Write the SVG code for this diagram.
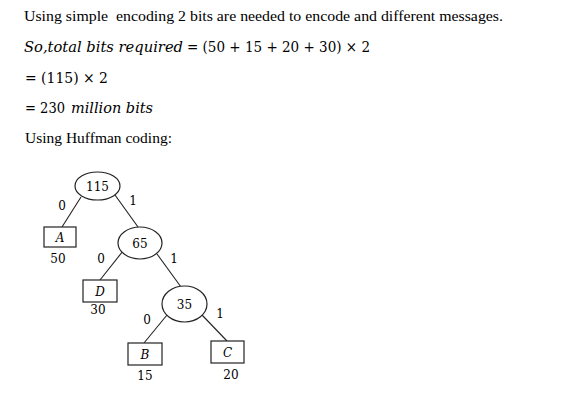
<svg xmlns="http://www.w3.org/2000/svg" width="583" height="408" viewBox="0 0 583 408">
<style>
.t{font-family:"Liberation Serif","Times New Roman",serif;font-size:15px;fill:#000}
.m{font-family:"DejaVu Serif","Liberation Serif",serif;font-size:15px;fill:#000}
.mi{font-style:italic}
.n{font-family:"DejaVu Serif","Liberation Serif",serif;font-size:12px;fill:#000;text-anchor:middle}
.l{font-family:"DejaVu Serif","Liberation Serif",serif;font-style:italic;font-size:12px;fill:#000;text-anchor:middle}
.s{fill:#fff;stroke:#222;stroke-width:1.2}
.e{stroke:#222;stroke-width:1.1;fill:none}
</style>
<rect width="583" height="408" fill="#fff"/>
<text class="t" x="24" y="21" textLength="479" lengthAdjust="spacingAndGlyphs" xml:space="preserve">Using simple  encoding 2 bits are needed to encode and different messages.</text>
<text class="m" x="24" y="52"><tspan class="mi" textLength="159" lengthAdjust="spacingAndGlyphs">So,total bits required</tspan><tspan x="187" textLength="183" lengthAdjust="spacingAndGlyphs">= (50 + 15 + 20 + 30) × 2</tspan></text>
<text class="m" x="25" y="83" textLength="83" lengthAdjust="spacingAndGlyphs">= (115) × 2</text>
<text class="m" x="25" y="113"><tspan textLength="40" lengthAdjust="spacingAndGlyphs">= 230</tspan><tspan class="mi" x="71" textLength="82" lengthAdjust="spacingAndGlyphs">million bits</tspan></text>
<text class="t" x="25" y="143" textLength="147" lengthAdjust="spacingAndGlyphs">Using Huffman coding:</text>
<g id="connectors">
<line class="e" x1="81" y1="197" x2="62" y2="227"/>
<line class="e" x1="115" y1="195" x2="138" y2="227"/>
<line class="e" x1="123" y1="251" x2="100" y2="280"/>
<line class="e" x1="157" y1="254" x2="181" y2="287"/>
<line class="e" x1="167" y1="315" x2="144" y2="343"/>
<line class="e" x1="202" y1="315" x2="227" y2="341"/>
<text class="n" x="62" y="210">0</text>
<text class="n" x="133" y="205">1</text>
<text class="n" x="101" y="263">0</text>
<text class="n" x="174" y="263">1</text>
<text class="n" x="147" y="324">0</text>
<text class="n" x="220" y="318">1</text>
</g>
<g id="n115"><ellipse class="s" cx="97.5" cy="186" rx="22.5" ry="14"/><text class="n" x="97.5" y="190.5">115</text></g>
<g id="n65"><ellipse class="s" cx="140" cy="243" rx="22" ry="16"/><text class="n" x="140" y="247.5">65</text></g>
<g id="n35"><ellipse class="s" cx="184.5" cy="304" rx="22.5" ry="18"/><text class="n" x="184.5" y="308.5">35</text></g>
<g id="nA"><rect class="s" x="44" y="227" width="32" height="20"/><text class="l" x="60" y="242">A</text><text class="n" x="58" y="263">50</text></g>
<g id="nD"><rect class="s" x="83" y="280" width="34" height="22"/><text class="l" x="100" y="296">D</text><text class="n" x="98" y="314">30</text></g>
<g id="nB"><rect class="s" x="128" y="343" width="34" height="22"/><text class="l" x="145" y="359">B</text><text class="n" x="145" y="380">15</text></g>
<g id="nC"><rect class="s" x="211" y="341" width="33" height="22"/><text class="l" x="227.5" y="357">C</text><text class="n" x="231" y="379">20</text></g>
</svg>
